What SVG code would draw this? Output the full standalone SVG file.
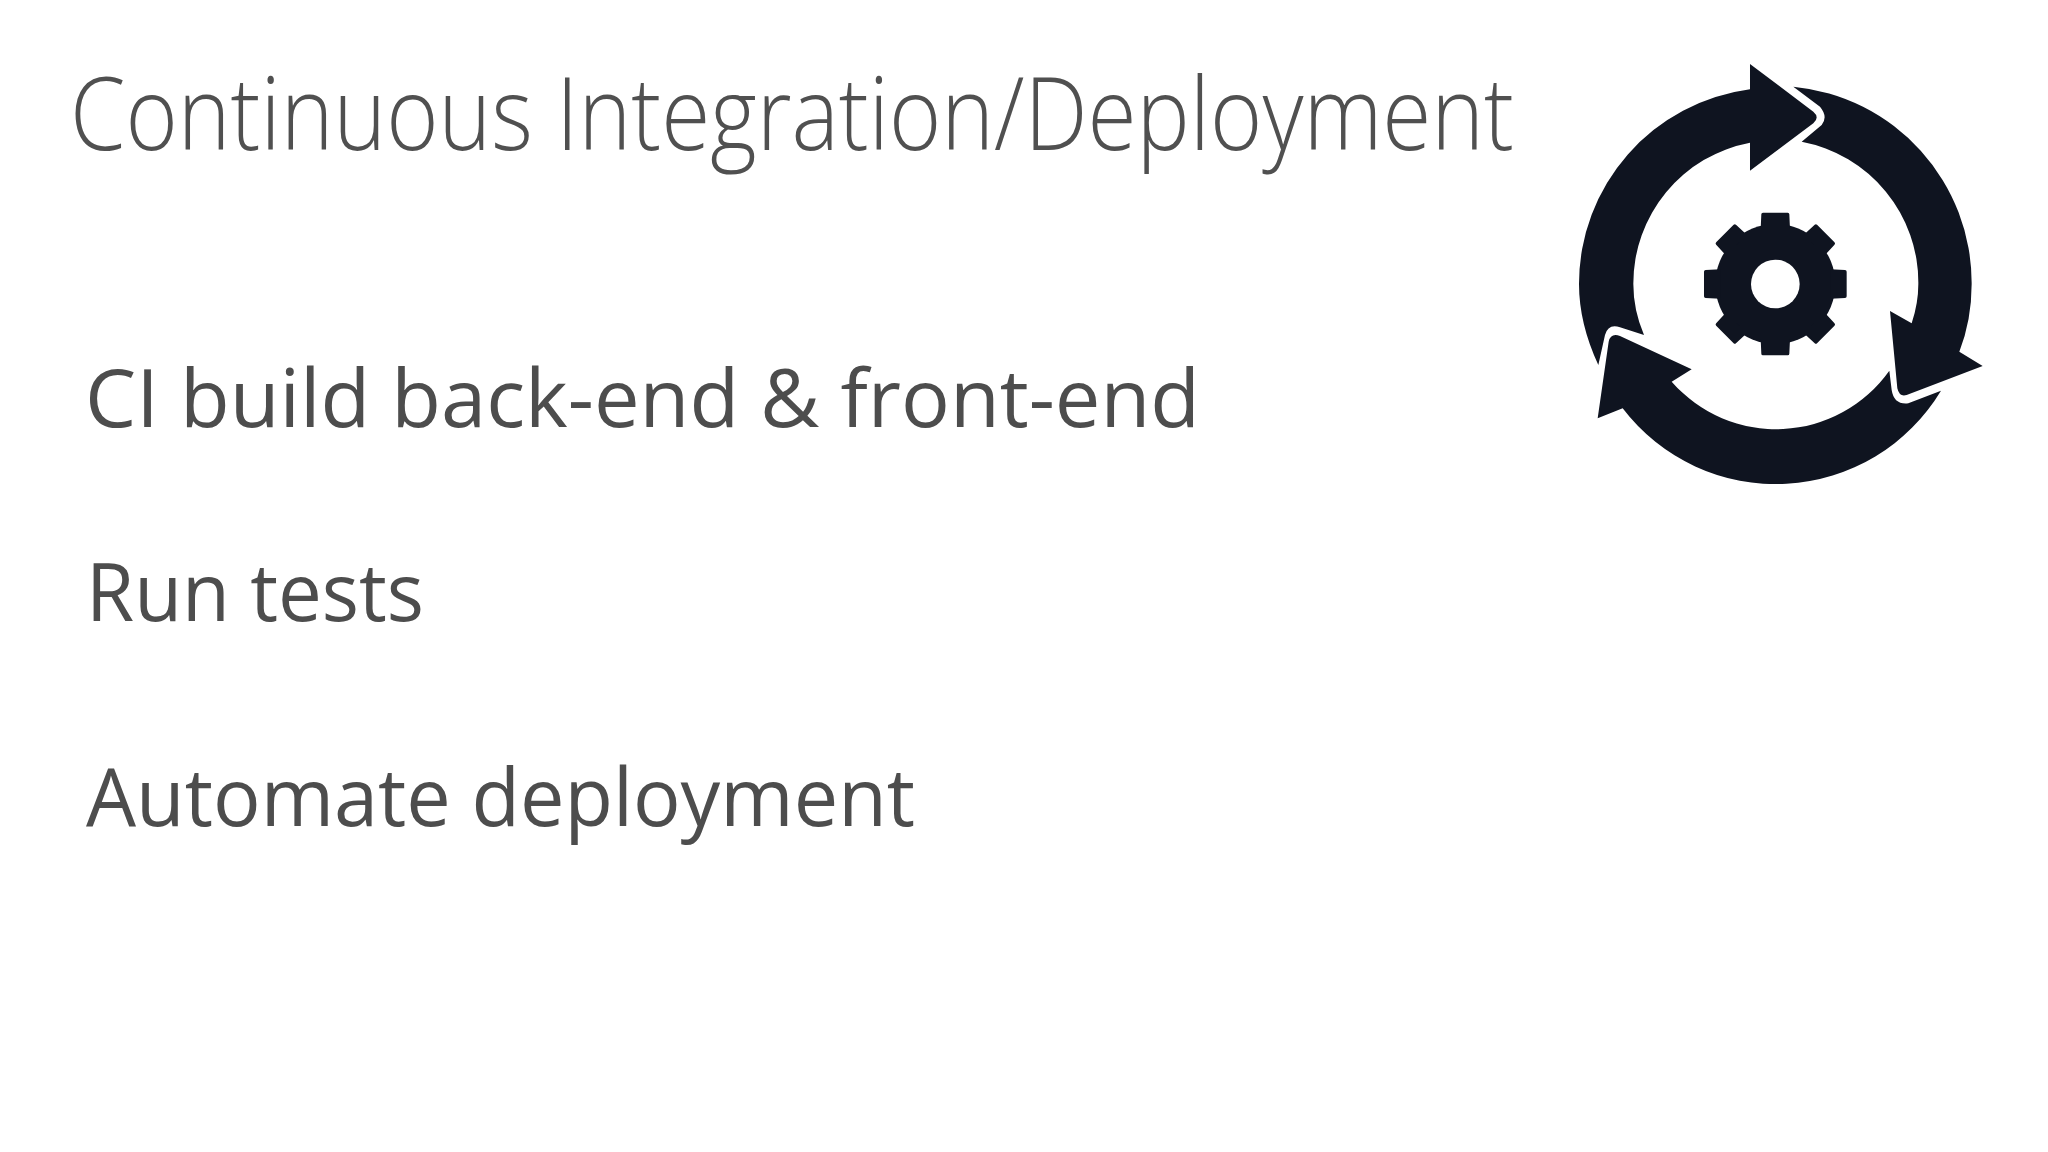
<svg xmlns="http://www.w3.org/2000/svg" width="2048" height="1152" viewBox="0 0 2048 1152">
<style>
.title{font-family:"Open Sans","Noto Sans","Liberation Sans",sans-serif;font-weight:300;font-size:102px;fill:#505050}
.body{font-family:"Open Sans","Noto Sans","Liberation Sans",sans-serif;font-weight:400;font-size:80px;fill:#4d4d4d}
.ink{fill:#0f1420}
</style>
<defs>
<path id="tooth" d="M-42 -209 Q-42 -214 -37 -214 L37 -214 Q42 -214 42 -209 L44 -165 L-44 -165 Z"/>
</defs>
<rect width="2048" height="1152" fill="#ffffff"/>
<text id="title" class="title" x="70" y="150" textLength="1444" lengthAdjust="spacingAndGlyphs">Continuous Integration/Deployment</text>
<text id="item1" class="body" x="85" y="427" textLength="1115" lengthAdjust="spacingAndGlyphs">CI build back-end &amp; front-end</text>
<text id="item2" class="body" x="86" y="621" textLength="338" lengthAdjust="spacingAndGlyphs">Run tests</text>
<text id="item3" class="body" x="86" y="826" textLength="829" lengthAdjust="spacingAndGlyphs">Automate deployment</text>
<g id="cycle-icon" class="ink" transform="translate(1560 40) scale(0.33333)">
<path id="arrow-top" d="M115 975 Q57 850 57 732 A589 589 0 0 1 570 148 L570 72 L760 215 Q780 232 760 250 L570 392 L570 308 A430 430 0 0 0 220 732 Q220 810 252 885 L180 862 Q145 850 135 885 Z"/>
<path id="arrow-right" d="M700 140 A592 592 0 0 1 1235 732 Q1235 840 1198 935 L1268 978 L1040 1065 Q1018 1072 1012 1045 L990 813 L1055 850 Q1075 790 1075 732 A430 430 0 0 0 725 305 L785 255 Q805 230 780 200 Z"/>
<path id="arrow-bottom" d="M1143 1052 A578 578 0 0 1 188 1105 L113 1135 L146 905 Q152 878 180 888 L395 988 L335 1025 A416 416 0 0 0 988 992 L995 1050 Q1002 1095 1045 1090 Z"/>
<g id="gear" transform="translate(646 732)">
<circle r="180"/>
<use href="#tooth"/>
<use href="#tooth" transform="rotate(45)"/>
<use href="#tooth" transform="rotate(90)"/>
<use href="#tooth" transform="rotate(135)"/>
<use href="#tooth" transform="rotate(180)"/>
<use href="#tooth" transform="rotate(225)"/>
<use href="#tooth" transform="rotate(270)"/>
<use href="#tooth" transform="rotate(315)"/>
<circle r="73" fill="#ffffff"/>
</g>
</g>
</svg>
